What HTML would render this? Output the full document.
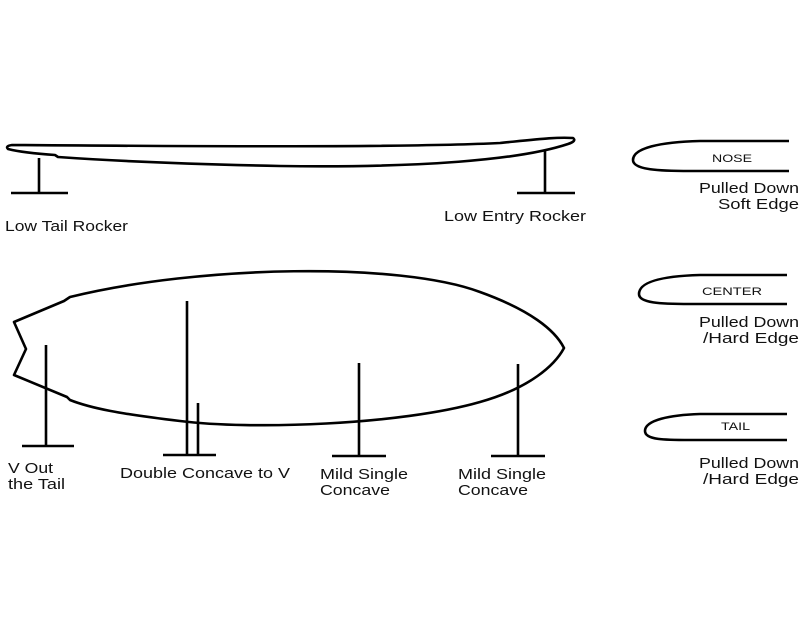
<!DOCTYPE html>
<html><head><style>
html,body{margin:0;padding:0;background:#fff;}
svg{display:block;}
text{font-family:"Liberation Sans",sans-serif;font-size:15px;fill:#111;}
</style></head><body>
<svg width="800" height="631" viewBox="0 0 800 631" xmlns="http://www.w3.org/2000/svg">
<g fill="none" stroke="#000" stroke-width="2.6" stroke-linejoin="round" stroke-linecap="butt">
<path d="M8,149 Q5,146 12,145 C150,146 400,148 500,143 C540,139 556,137 573,138 Q577,141 568,144 C520,160 420,168 280,166 C180,164 100,160 58,157 L55,155 C40,154 20,152 8,149 Z"/>
<line x1="39" y1="158" x2="39" y2="193"/><line x1="11" y1="193" x2="68" y2="193"/>
<line x1="545" y1="151" x2="545" y2="193"/><line x1="517" y1="193" x2="575" y2="193"/>
<path d="M14,322 L64,301 L70,297 C200,265 400,262 480,292 C530,310 555,330 564,348 C555,365 530,388 480,402 C400,425 250,430 180,421 C120,414 90,408 70,400 L67,397 L14,375 L26,349 Z"/>
<line x1="46" y1="345" x2="46" y2="446"/><line x1="22" y1="446" x2="74" y2="446"/>
<line x1="187" y1="301" x2="187" y2="455"/><line x1="198" y1="403" x2="198" y2="455"/><line x1="163" y1="455" x2="216" y2="455"/>
<line x1="359" y1="363" x2="359" y2="456"/><line x1="332" y1="456" x2="386" y2="456"/>
<line x1="518" y1="364" x2="518" y2="456"/><line x1="491" y1="456" x2="545" y2="456"/>
<path d="M789,141 L700,141 C660,142 633,148 633,160 C633,170 660,171 690,171 L789,171"/>
<path d="M787,275 L700,275 C665,276 639,281 639,294 C639,303 660,304 690,304 L787,304"/>
<path d="M787,414 L700,414 C670,415 645,420 645,431 C645,440 665,440 690,440 L787,440"/>
</g>
<g lengthAdjust="spacingAndGlyphs">
<text x="5" y="231" textLength="123" lengthAdjust="spacingAndGlyphs">Low Tail Rocker</text>
<text x="444" y="221" textLength="142" lengthAdjust="spacingAndGlyphs">Low Entry Rocker</text>
<text x="8" y="473" textLength="45" lengthAdjust="spacingAndGlyphs">V Out</text>
<text x="8" y="489" textLength="57" lengthAdjust="spacingAndGlyphs">the Tail</text>
<text x="120" y="478" textLength="170" lengthAdjust="spacingAndGlyphs">Double Concave to V</text>
<text x="320" y="479" textLength="88" lengthAdjust="spacingAndGlyphs">Mild Single</text>
<text x="320" y="495" textLength="70" lengthAdjust="spacingAndGlyphs">Concave</text>
<text x="458" y="479" textLength="88" lengthAdjust="spacingAndGlyphs">Mild Single</text>
<text x="458" y="495" textLength="70" lengthAdjust="spacingAndGlyphs">Concave</text>
<text x="712" y="162" style="font-size:11px" textLength="40" lengthAdjust="spacingAndGlyphs">NOSE</text>
<text x="702" y="295" style="font-size:11px" textLength="60" lengthAdjust="spacingAndGlyphs">CENTER</text>
<text x="721" y="430" style="font-size:11px" textLength="29" lengthAdjust="spacingAndGlyphs">TAIL</text>
<text x="699" y="193" textLength="100" lengthAdjust="spacingAndGlyphs">Pulled Down</text>
<text x="718" y="209" textLength="81" lengthAdjust="spacingAndGlyphs">Soft Edge</text>
<text x="699" y="327" textLength="100" lengthAdjust="spacingAndGlyphs">Pulled Down</text>
<text x="703" y="343" textLength="96" lengthAdjust="spacingAndGlyphs">/Hard Edge</text>
<text x="699" y="468" textLength="100" lengthAdjust="spacingAndGlyphs">Pulled Down</text>
<text x="703" y="484" textLength="96" lengthAdjust="spacingAndGlyphs">/Hard Edge</text>
</g>
</svg>
</body></html>
